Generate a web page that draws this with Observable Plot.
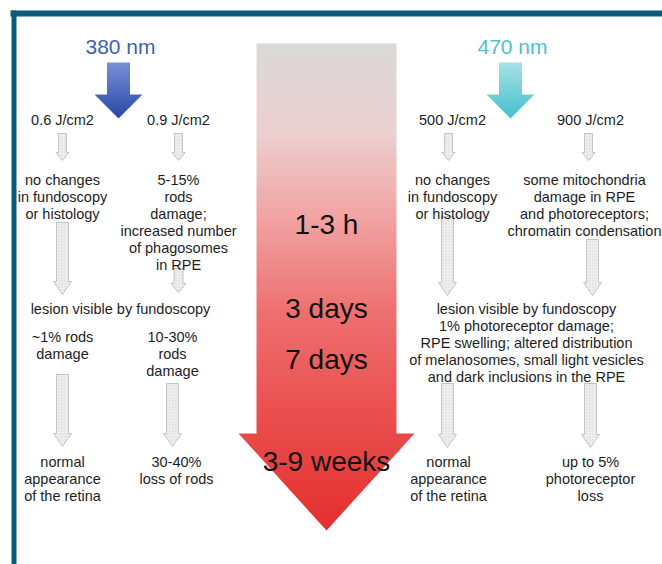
<!DOCTYPE html>
<html><head><meta charset="utf-8">
<script src="https://cdn.jsdelivr.net/npm/d3@7"></script>
<script src="https://cdn.jsdelivr.net/npm/@observablehq/plot@0.6"></script>
<style>body{margin:0;background:#fff;} svg{display:block;}</style>
</head><body><div id="chart"></div>
<script>
// ---- content ----
const wavelengths = ["380 nm", "470 nm"];
const doses = ["0.6 J/cm2", "0.9 J/cm2", "500 J/cm2", "900 J/cm2"];
const timepoints = ["1-3 h", "3 days", "7 days", "3-9 weeks"];
const earlyEffects = [
  "no changes\nin fundoscopy\nor histology",
  "5-15%\nrods\ndamage;\nincreased number\nof phagosomes\nin RPE",
  "no changes\nin fundoscopy\nor histology",
  "some mitochondria\ndamage in RPE\nand photoreceptors;\nchromatin condensation"
];
const midLeftTitle = ["lesion visible by fundoscopy"];
const midLeftEffects = ["~1% rods\ndamage", "10-30%\nrods\ndamage"];
const midRightEffects = ["lesion visible by fundoscopy\n1% photoreceptor damage;\nRPE swelling; altered distribution\nof melanosomes, small light vesicles\nand dark inclusions in the RPE"];
const lateEffects = [
  "normal\nappearance\nof the retina",
  "30-40%\nloss of rods",
  "normal\nappearance\nof the retina",
  "up to 5%\nphotoreceptor\nloss"
];

// ---- layout ----
const W = 662, H = 564;
const font = "Liberation Sans, Arial, Helvetica, sans-serif";
const colX = [62, 178, 450, 590];
const waveX = [118, 510];
const waveColors = ["#3d5fb5", "#4dc3cf"];
const timeY = [225, 309, 360, 462];
const fs = 14.5, lh = 1.17;
const topOf = c => c - 0.36 * fs;

function arrowPts(id, cx, y1, y2, sw, hw, hh) {
  const yh = y2 - hh;
  return [
    [cx - sw/2, y1], [cx + sw/2, y1], [cx + sw/2, yh], [cx + hw/2, yh],
    [cx, y2], [cx - hw/2, yh], [cx - sw/2, yh], [cx - sw/2, y1]
  ].map(([x, y]) => ({id, x, y}));
}

// gray arrows: [x, y1, y2, shaft, head, headH]
const grayArrowsSpec = [
  [colX[0], 133, 160, 8, 13, 8], [colX[1], 133, 160, 8, 13, 8],
  [colX[2] - 2, 133, 160, 8, 13, 8], [colX[3] - 2, 133, 160, 8, 13, 8],
  [colX[0], 222, 294, 12, 18, 13], [colX[1], 268, 292, 9, 15, 9],
  [colX[2] - 3, 216, 295, 12, 18, 13], [colX[3] + 2, 239, 295, 12, 18, 13],
  [colX[0], 374, 446, 12, 18, 13], [172, 383, 446, 12, 18, 13],
  [colX[2] - 3, 383, 447, 12, 18, 13], [colX[3], 383, 447, 12, 18, 13]
];
const grayArrows = grayArrowsSpec.flatMap((a, i) => arrowPts("g" + i, ...a));

const bigArrow = (() => {
  const cx = 326, l = 256, r = 396, top = 43, yh = 433, tip = 530, hl = 238, hr = 414;
  return [[l, top], [r, top], [r, yh], [hr, yh], [cx, tip], [hl, yh], [l, yh], [l, top]]
    .map(([x, y]) => ({id: "big", x, y}));
})();

const waveArrows = waveX.map((cx, i) => arrowPts("w" + i, cx, 62, 118, 23, 48, 24));

const frame = [
  {x1: 10, x2: W, y1: 13, y2: 13, w: 6},
  {x1: 13.5, x2: 13.5, y1: 10, y2: H, w: 5}
];

const defs = () => {
  const d = d3.create("svg:defs");
  const g = d.append("linearGradient").attr("id", "bigGrad")
    .attr("x1", 0).attr("y1", 0).attr("x2", 0).attr("y2", 1);
  [[0, "#dcd9d9"], [0.18, "#ecd0d0"], [0.36, "#f2a2a2"], [0.55, "#ee7070"], [0.75, "#ea5050"], [1, "#e52e2e"]]
    .forEach(([o, c]) => g.append("stop").attr("offset", o).attr("stop-color", c));
  const ids = [["w0", "#7a8fd6", "#2747a6"], ["w1", "#a6e0e6", "#45c0cc"]];
  ids.forEach(([id, c1, c2]) => {
    const gg = d.append("linearGradient").attr("id", "grad" + id)
      .attr("x1", 0).attr("y1", 0).attr("x2", 0).attr("y2", 1);
    gg.append("stop").attr("offset", 0).attr("stop-color", c1);
    gg.append("stop").attr("offset", 1).attr("stop-color", c2);
  });
  const p = d.append("pattern").attr("id", "stip").attr("width", 3).attr("height", 3)
    .attr("patternUnits", "userSpaceOnUse");
  p.append("rect").attr("width", 3).attr("height", 3).attr("fill", "#f1f1f1");
  p.append("circle").attr("cx", 1.5).attr("cy", 1.5).attr("r", 0.8).attr("fill", "#cdcdcd");
  return d.node();
};

const txt = (data, o) => Plot.text(data, {
  fontFamily: font, fontSize: fs, fill: "#1e1e1e", lineHeight: lh, lineAnchor: "top", ...o
});

const chart = Plot.plot({
  width: W, height: H,
  margin: 0,
  x: {type: "linear", domain: [0, W], range: [0, W], axis: null},
  y: {type: "linear", domain: [0, H], range: [0, H], axis: null},
  style: {background: "#fff", fontFamily: font},
  marks: [
    defs,
    Plot.link(frame, {x1: "x1", x2: "x2", y1: "y1", y2: "y2", stroke: "#0d5a79", strokeWidth: d => d.w}),
    Plot.line(bigArrow, {x: "x", y: "y", z: "id", fill: "url(#bigGrad)", stroke: "none", curve: "linear"}),
    Plot.line(waveArrows[0], {x: "x", y: "y", fill: "url(#gradw0)", stroke: "none"}),
    Plot.line(waveArrows[1], {x: "x", y: "y", fill: "url(#gradw1)", stroke: "none"}),
    Plot.line(grayArrows, {x: "x", y: "y", z: "id", fill: "url(#stip)", stroke: "#c4c4c4", strokeWidth: 1}),
    Plot.text(wavelengths, {x: (d, i) => waveX[i] + 2, y: 47, text: d => d, fill: (d, i) => waveColors[i],
      fontSize: 21, fontFamily: font, lineAnchor: "middle"}),
    Plot.text(timepoints, {x: 326, y: (d, i) => timeY[i], text: d => d, fill: "#111",
      fontSize: 28, fontFamily: font, lineAnchor: "middle"}),
    txt(doses, {x: (d, i) => colX[i] + [0, 0, 2, 0][i], y: topOf(118), text: d => d}),
    txt(earlyEffects, {x: (d, i) => colX[i] + [0, 0, 2, -6][i], y: topOf(178), text: d => d}),
    txt(midLeftTitle, {x: 120, y: topOf(307), text: d => d}),
    txt(midLeftEffects, {x: (d, i) => [62, 172][i], y: topOf(335), text: d => d}),
    txt(midRightEffects, {x: 526, y: topOf(307), text: d => d}),
    txt(lateEffects, {x: (d, i) => colX[i] + [0, -2, -2, 0][i], y: topOf(460), text: d => d})
  ]
});
document.getElementById("chart").append(chart);
</script>
</body></html>
